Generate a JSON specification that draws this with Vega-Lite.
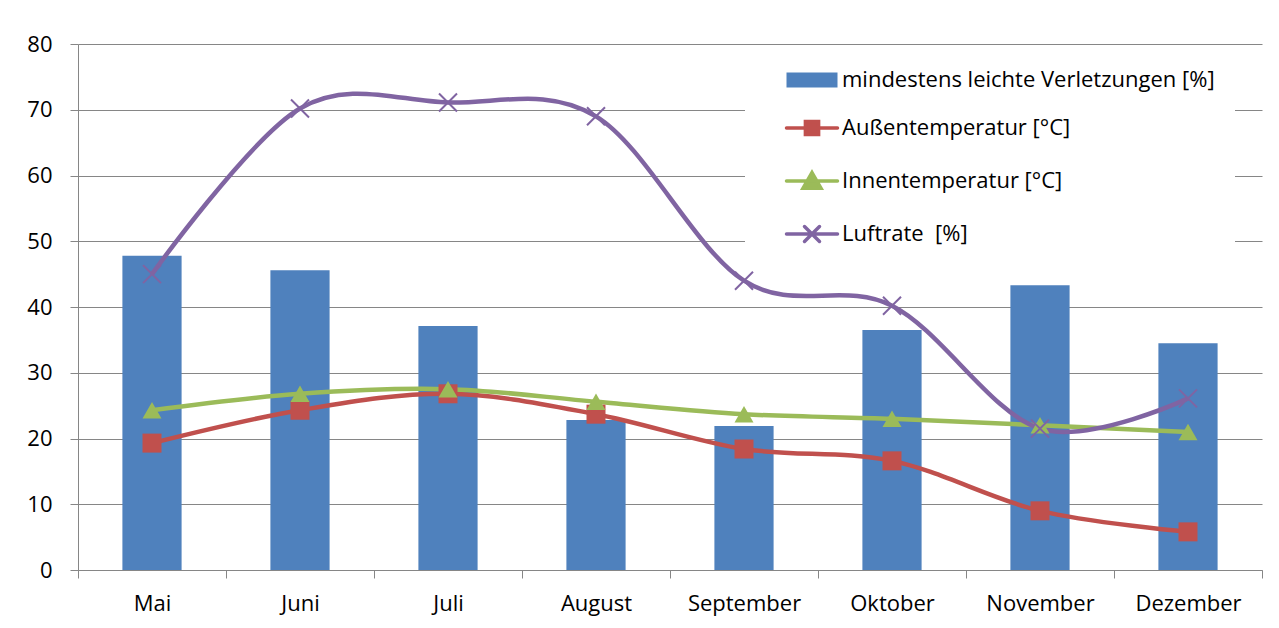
{
  "$schema": "https://vega.github.io/schema/vega-lite/v6.json",
  "width": 1184,
  "height": 526,
  "autosize": {"type": "none"},
  "padding": {"left": 78, "top": 44, "right": 17, "bottom": 58},
  "background": "white",
  "config": {
    "view": {"stroke": null},
    "font": "Open Sans",
    "axis": {
      "labelFont": "Open Sans",
      "labelFontSize": 22,
      "labelColor": "#000000",
      "domainColor": "#868686",
      "tickColor": "#868686",
      "gridColor": "#868686",
      "gridWidth": 1,
      "domainWidth": 1,
      "tickWidth": 1,
      "tickSize": 8,
      "title": null
    }
  },
  "data": {
    "values": [
      {"Monat": "Mai", "Reihe": "mindestens leichte Verletzungen [%]", "Wert": 47.8},
      {"Monat": "Juni", "Reihe": "mindestens leichte Verletzungen [%]", "Wert": 45.6},
      {"Monat": "Juli", "Reihe": "mindestens leichte Verletzungen [%]", "Wert": 37.1},
      {"Monat": "August", "Reihe": "mindestens leichte Verletzungen [%]", "Wert": 22.8},
      {"Monat": "September", "Reihe": "mindestens leichte Verletzungen [%]", "Wert": 21.9},
      {"Monat": "Oktober", "Reihe": "mindestens leichte Verletzungen [%]", "Wert": 36.5},
      {"Monat": "November", "Reihe": "mindestens leichte Verletzungen [%]", "Wert": 43.3},
      {"Monat": "Dezember", "Reihe": "mindestens leichte Verletzungen [%]", "Wert": 34.5},
      {"Monat": "Mai", "Reihe": "Außentemperatur [°C]", "Wert": 19.3},
      {"Monat": "Juni", "Reihe": "Außentemperatur [°C]", "Wert": 24.3},
      {"Monat": "Juli", "Reihe": "Außentemperatur [°C]", "Wert": 26.8},
      {"Monat": "August", "Reihe": "Außentemperatur [°C]", "Wert": 23.7},
      {"Monat": "September", "Reihe": "Außentemperatur [°C]", "Wert": 18.4},
      {"Monat": "Oktober", "Reihe": "Außentemperatur [°C]", "Wert": 16.6},
      {"Monat": "November", "Reihe": "Außentemperatur [°C]", "Wert": 9.0},
      {"Monat": "Dezember", "Reihe": "Außentemperatur [°C]", "Wert": 5.8},
      {"Monat": "Mai", "Reihe": "Innentemperatur [°C]", "Wert": 24.3},
      {"Monat": "Juni", "Reihe": "Innentemperatur [°C]", "Wert": 26.8},
      {"Monat": "Juli", "Reihe": "Innentemperatur [°C]", "Wert": 27.5},
      {"Monat": "August", "Reihe": "Innentemperatur [°C]", "Wert": 25.6},
      {"Monat": "September", "Reihe": "Innentemperatur [°C]", "Wert": 23.7},
      {"Monat": "Oktober", "Reihe": "Innentemperatur [°C]", "Wert": 23.0},
      {"Monat": "November", "Reihe": "Innentemperatur [°C]", "Wert": 22.0},
      {"Monat": "Dezember", "Reihe": "Innentemperatur [°C]", "Wert": 21.0},
      {"Monat": "Mai", "Reihe": "Luftrate  [%]", "Wert": 45.0},
      {"Monat": "Juni", "Reihe": "Luftrate  [%]", "Wert": 70.2},
      {"Monat": "Juli", "Reihe": "Luftrate  [%]", "Wert": 71.1},
      {"Monat": "August", "Reihe": "Luftrate  [%]", "Wert": 69.0},
      {"Monat": "September", "Reihe": "Luftrate  [%]", "Wert": 44.0},
      {"Monat": "Oktober", "Reihe": "Luftrate  [%]", "Wert": 40.2},
      {"Monat": "November", "Reihe": "Luftrate  [%]", "Wert": 21.5},
      {"Monat": "Dezember", "Reihe": "Luftrate  [%]", "Wert": 26.1}
    ]
  },
  "encoding": {
    "x": {
      "field": "Monat",
      "type": "nominal",
      "sort": ["Mai", "Juni", "Juli", "August", "September", "Oktober", "November", "Dezember"],
      "scale": {"type": "band", "paddingInner": 0, "paddingOuter": 0},
      "axis": {"labelAngle": 0, "tickBand": "extent", "labelPadding": 15, "domain": true, "grid": false}
    },
    "color": {
      "field": "Reihe",
      "type": "nominal",
      "scale": {
        "domain": ["mindestens leichte Verletzungen [%]", "Außentemperatur [°C]", "Innentemperatur [°C]", "Luftrate  [%]"],
        "range": ["#4F81BD", "#C0504D", "#9BBB59", "#8064A2"]
      },
      "legend": {
        "title": null,
        "orient": "none",
        "legendX": 667,
        "legendY": 5,
        "padding": 20,
        "fillColor": "white",
        "symbolOffset": 36,
        "symbolSize": 3600,
        "labelOffset": 19,
        "rowPadding": 23,
        "labelFont": "Open Sans",
        "labelFontSize": 22,
        "labelColor": "#000000",
        "labelLimit": 700,
        "labelExpr": "indexof(datum.label, 'mindestens') >= 0 ? datum.label + '\u00a0\u00a0\u00a0\u00a0\u00a0' : replace(datum.label, '  ', ' \u00a0')",
        "encode": {
          "symbols": {
            "update": {
              "shape": {"signal": "datum.index === 0 ? 'M-0.85,-0.25H0.85V0.25H-0.85Z' : datum.index === 1 ? 'M-0.85,0H0.85M-0.22,-0.22H0.22V0.22H-0.22Z' : datum.index === 2 ? 'M-0.85,0H0.85M0,-0.28L0.3,0.24H-0.3Z' : 'M-0.85,0H0.85M-0.25,-0.25L0.25,0.25M-0.25,0.25L0.25,-0.25'"},
              "fill": {"signal": "scale('color', datum.value)"},
              "stroke": {"signal": "scale('color', datum.value)"},
              "strokeWidth": {"signal": "datum.index === 0 ? 0 : 3.5"},
              "strokeCap": {"value": "round"},
              "opacity": {"value": 1},
              "fillOpacity": {"value": 1},
              "strokeOpacity": {"value": 1}
            }
          }
        }
      }
    }
  },
  "layer": [
    {
      "transform": [{"filter": "datum.Reihe === 'mindestens leichte Verletzungen [%]'"}],
      "mark": {"type": "bar", "width": {"band": 0.4}},
      "encoding": {
        "y": {
          "field": "Wert",
          "type": "quantitative",
          "scale": {"domain": [0, 80], "nice": false, "zero": true},
          "axis": {"values": [0, 10, 20, 30, 40, 50, 60, 70, 80], "labelPadding": 18, "grid": true, "domain": true}
        }
      }
    },
    {
      "transform": [{"filter": "datum.Reihe !== 'mindestens leichte Verletzungen [%]'"}],
      "mark": {"type": "line", "interpolate": "cardinal", "strokeWidth": 4.5},
      "encoding": {
        "y": {"field": "Wert", "type": "quantitative"}
      }
    },
    {
      "transform": [{"filter": "datum.Reihe === 'Außentemperatur [°C]' || datum.Reihe === 'Innentemperatur [°C]'"}],
      "mark": {"type": "point", "filled": true, "opacity": 1, "size": 361},
      "encoding": {
        "y": {"field": "Wert", "type": "quantitative"},
        "shape": {
          "field": "Reihe",
          "type": "nominal",
          "scale": {"domain": ["Außentemperatur [°C]", "Innentemperatur [°C]"], "range": ["square", "triangle-up"]},
          "legend": null
        }
      }
    },
    {
      "transform": [{"filter": "datum.Reihe === 'Luftrate  [%]'"}],
      "mark": {"type": "point", "filled": false, "opacity": 1, "size": 324, "strokeWidth": 2, "shape": "M-1,-1L1,1M-1,1L1,-1"},
      "encoding": {
        "y": {"field": "Wert", "type": "quantitative"}
      }
    }
  ]
}
